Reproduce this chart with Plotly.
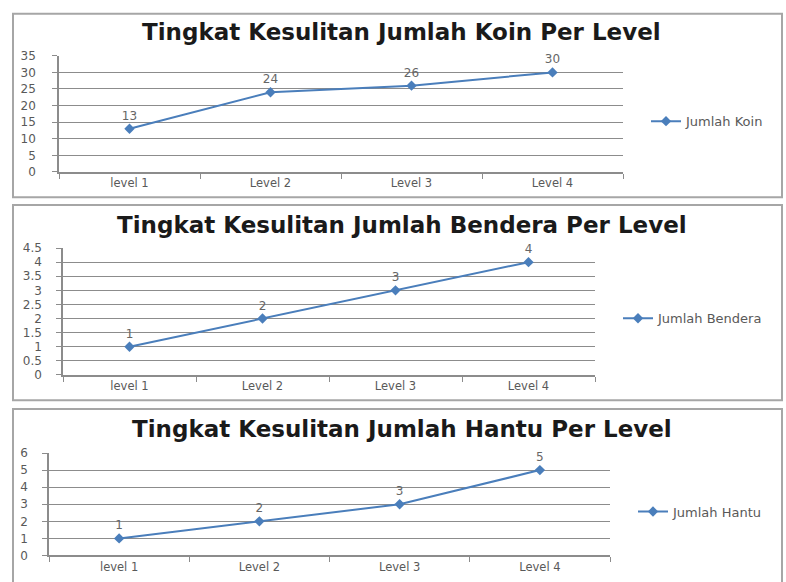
import plotly.graph_objects as go

W, H = 786, 582

levels = ["level 1", "Level 2", "Level 3", "Level 4"]
koin = [13, 24, 26, 30]
bendera = [1, 2, 3, 4]
hantu = [1, 2, 3, 5]

titles = [
    "Tingkat Kesulitan Jumlah Koin Per Level",
    "Tingkat Kesulitan Jumlah Bendera Per Level",
    "Tingkat Kesulitan Jumlah Hantu Per Level",
]
series_names = ["Jumlah Koin", "Jumlah Bendera", "Jumlah Hantu"]

def px_x(x):
    return x / W

def px_y(y):
    return 1 - y / H

panels = [
    dict(vals=koin, plot=(59, 623, 50, 169), rng=[0, 35], dtick=5,
         box=(13, 782, 7, 195), title_y=26, leg=(646, 117), standoff=14),
    dict(vals=bendera, plot=(63, 595, 247, 377), rng=[0, 4.5], dtick=0.5,
         box=(13, 782, 203, 403), title_y=223, leg=(618, 319), standoff=12),
    dict(vals=hantu, plot=(49, 610, 457, 562), rng=[0, 6], dtick=1,
         box=(13, 782, 412, 600), title_y=432, leg=(633, 517), standoff=12),
]

BLUE = "#4A7EBB"
GRAY_TXT = "#595959"
GRID = "#8c8c8c"
FONT = "DejaVu Sans"

fig = go.Figure()
shapes = []
annotations = []
layout_axes = {}

for i, p in enumerate(panels):
    n = i + 1
    xa = "x" if n == 1 else f"x{n}"
    ya = "y" if n == 1 else f"y{n}"
    legname = "legend" if n == 1 else f"legend{n}"
    fig.add_trace(go.Scatter(
        x=levels, y=p["vals"], name=series_names[i],
        mode="lines+markers+text",
        text=[str(v) for v in p["vals"]],
        textposition="top center",
        textfont=dict(family=FONT, size=12, color="#666666"),
        line=dict(color=BLUE, width=2),
        marker=dict(symbol="diamond", size=8, color=BLUE),
        xaxis=xa, yaxis=ya, legend=legname, showlegend=True, cliponaxis=False,
    ))
    x0, x1, y0, y1 = p["plot"]
    xkey = "xaxis" if n == 1 else f"xaxis{n}"
    ykey = "yaxis" if n == 1 else f"yaxis{n}"
    layout_axes[xkey] = dict(
        domain=[px_x(x0), px_x(x1)], anchor=ya, type="category",
        range=[-0.5, len(levels) - 0.5],
        showline=True, linecolor=GRID, linewidth=1.5,
        ticks="outside", tickson="boundaries", ticklen=5, tickcolor=GRID,
        showgrid=False, zeroline=False,
        tickfont=dict(family=FONT, size=11.5, color=GRAY_TXT),
        fixedrange=True,
    )
    layout_axes[ykey] = dict(
        domain=[px_y(y1), px_y(y0)], anchor=xa, range=p["rng"], dtick=p["dtick"],
        showline=True, linecolor=GRID, linewidth=1.5,
        ticks="outside", ticklen=5, tickcolor=GRID,
        showgrid=True, gridcolor=GRID, gridwidth=1, zeroline=False,
        tickfont=dict(family=FONT, size=12, color=GRAY_TXT),
        ticklabelstandoff=p["standoff"],
        fixedrange=True,
    )
    bx0, bx1, by0, by1 = p["box"]
    shapes.append(dict(type="rect", xref="paper", yref="paper",
                       x0=px_x(bx0), x1=px_x(bx1), y0=px_y(by1), y1=px_y(by0),
                       line=dict(color="#a6a6a6", width=2), layer="below"))
    annotations.append(dict(text=f"<b>{titles[i]}</b>", xref="paper", yref="paper",
                            x=px_x(402), y=px_y(p["title_y"]), showarrow=False,
                            xanchor="center", yanchor="middle",
                            font=dict(family=FONT, size=23, color="#1a1a1a")))
    lx, ly = p["leg"]
    layout_axes[legname] = dict(
        x=px_x(lx), y=px_y(ly), xanchor="left", yanchor="middle",
        bgcolor="rgba(0,0,0,0)", borderwidth=0,
        font=dict(family=FONT, size=13, color=GRAY_TXT),
        itemwidth=30,
    )

fig.update_layout(
    width=W, height=H, margin=dict(l=0, r=0, t=0, b=0),
    paper_bgcolor="white", plot_bgcolor="white",
    shapes=shapes, annotations=annotations,
    **layout_axes,
)

fig.write_html("out.html")
